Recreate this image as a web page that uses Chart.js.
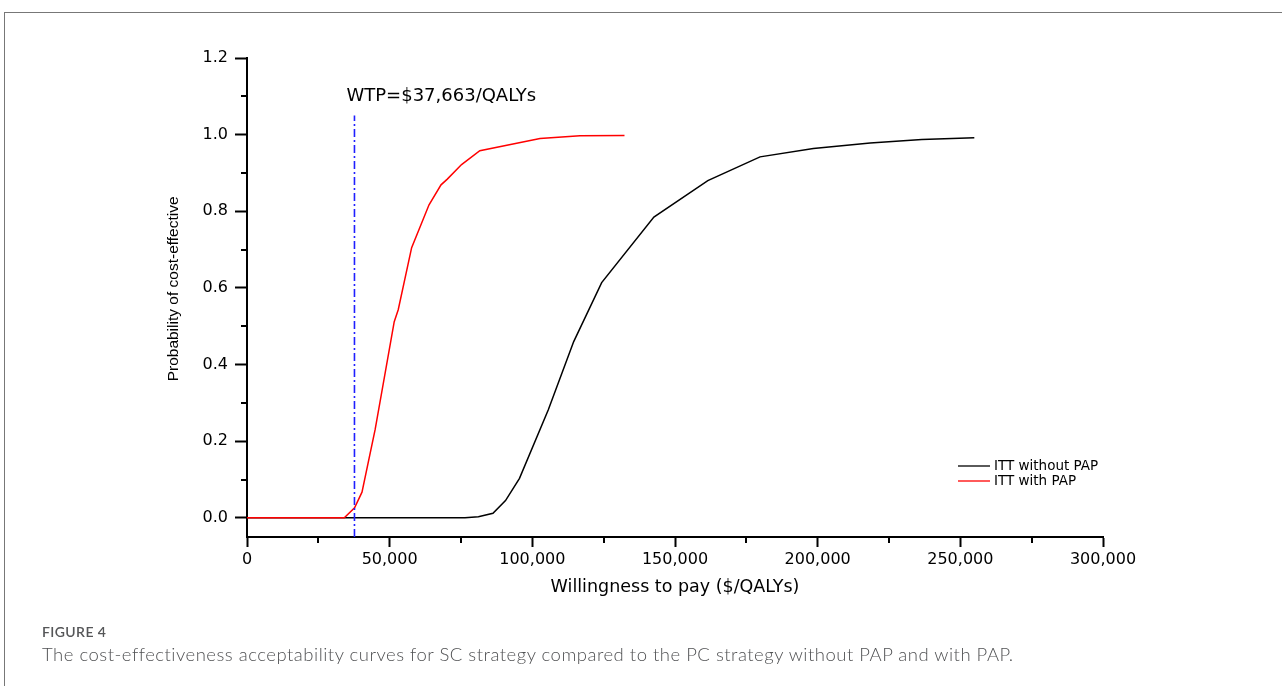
<!DOCTYPE html>
<html>
<head>
<meta charset="utf-8">
<script src="https://cdn.jsdelivr.net/npm/chart.js@4.4.1/dist/chart.umd.min.js"></script>
<style>
  html, body { margin: 0; padding: 0; background: #fff; }
  body { width: 1282px; height: 686px; position: relative; overflow: hidden; }
  #frame { position: absolute; left: 4px; top: 12px; width: 1290px; height: 700px;
           border-top: 1px solid #777; border-left: 1px solid #777; }
  #c { position: absolute; left: 0; top: 0; }
  #figlabel { position: absolute; left: 42px; top: 623px; font-family: Lato, "Open Sans", sans-serif;
              font-size: 14px; font-weight: 600; color: #555658; letter-spacing: 0.4px; }
  #figcap { position: absolute; left: 42px; top: 643px; font-family: Lato, "Open Sans", sans-serif;
            font-size: 18.5px; font-weight: 300; color: #505153; white-space: nowrap; letter-spacing: 0.5px; }
</style>
</head>
<body>
<div id="frame"></div>
<canvas id="c" width="1282" height="686"></canvas>
<div id="figlabel">FIGURE 4</div>
<div id="figcap">The cost-effectiveness acceptability curves for SC strategy compared to the PC strategy without PAP and with PAP.</div>
<script>
// ---- data ----
const withoutPapWTP  = [0, 76400, 81100, 86200, 90600, 95500, 105600, 114500, 124300, 142600, 161500, 179800, 198500, 218400, 236500, 254900];
const withoutPapProb = [0, 0, 0.003, 0.012, 0.045, 0.103, 0.282, 0.46, 0.614, 0.785, 0.880, 0.942, 0.964, 0.978, 0.987, 0.992];
const withPapWTP  = [0, 34100, 37700, 40300, 44900, 51600, 53000, 57700, 63800, 68000, 70200, 75200, 81600, 102700, 116700, 132300];
const withPapProb = [0, 0, 0.026, 0.067, 0.23, 0.512, 0.543, 0.705, 0.817, 0.869, 0.884, 0.922, 0.958, 0.99, 0.997, 0.998];
const wtpThreshold = 37663;
const wtpLineProb = [-0.05, 1.05];
const xMajorTicks = [0, 50000, 100000, 150000, 200000, 250000, 300000];
const xMinorTicks = [25000, 75000, 125000, 175000, 225000, 275000];
const yMajorTicks = [0, 0.2, 0.4, 0.6, 0.8, 1.0, 1.2];
const yMinorTicks = [0.1, 0.3, 0.5, 0.7, 0.9, 1.1];
const seriesNames = ['ITT without PAP', 'ITT with PAP'];
const wtpLabel = 'WTP=$37,663/QALYs';
const xTitle = 'Willingness to pay ($/QALYs)';
const yTitle = '    Probability of cost-effective';

const toPts = (xs, ys) => xs.map((x, i) => ({x: x, y: ys[i]}));

const extras = {
  id: 'extras',
  afterDraw(chart) {
    const ctx = chart.ctx;
    const xs = chart.scales.x, ys = chart.scales.y;
    ctx.save();
    // minor ticks
    ctx.strokeStyle = '#000';
    ctx.lineWidth = 2;
    ctx.beginPath();
    yMinorTicks.forEach(v => {
      const p = Math.round(ys.getPixelForValue(v));
      ctx.moveTo(ys.right - 6, p); ctx.lineTo(ys.right, p);
    });
    xMinorTicks.forEach(v => {
      const p = Math.round(xs.getPixelForValue(v));
      ctx.moveTo(p, xs.top); ctx.lineTo(p, xs.top + 6);
    });
    ctx.stroke();
    // WTP label
    ctx.fillStyle = '#000';
    ctx.font = '18px "DejaVu Sans"';
    ctx.textBaseline = 'middle';
    ctx.textAlign = 'left';
    ctx.fillText(wtpLabel, xs.getPixelForValue(wtpThreshold) - 8, ys.getPixelForValue(1.05) - 19);
    // legend
    const lx = 958, ly = 466, gap = 15;
    const cols = ['#000000', '#ff0000'];
    ctx.font = '13.5px "DejaVu Sans"';
    seriesNames.forEach((n, i) => {
      const y = ly + i * gap;
      ctx.strokeStyle = cols[i];
      ctx.lineWidth = 1.3;
      ctx.beginPath(); ctx.moveTo(lx, y); ctx.lineTo(lx + 32, y); ctx.stroke();
      ctx.fillStyle = '#000';
      ctx.fillText(n, lx + 36, y + 0.5);
    });
    ctx.restore();
  }
};

new Chart(document.getElementById('c'), {
  type: 'line',
  data: {
    datasets: [
      { label: seriesNames[0], data: toPts(withoutPapWTP, withoutPapProb), borderColor: '#000000',
        borderWidth: 1.5, pointRadius: 0, tension: 0, order: 3 },
      { label: seriesNames[1], data: toPts(withPapWTP, withPapProb), borderColor: '#ff0000',
        borderWidth: 1.5, pointRadius: 0, tension: 0, order: 2 },
      { label: 'WTP', data: toPts([wtpThreshold, wtpThreshold], wtpLineProb), borderColor: '#1f1fff',
        borderWidth: 1.6, borderDash: [8, 3, 2, 3], pointRadius: 0, order: 1 }
    ]
  },
  plugins: [extras],
  options: {
    responsive: false,
    animation: false,
    devicePixelRatio: 1,
    layout: { padding: { left: 0, top: 58, right: 179, bottom: 0 } },
    plugins: { legend: { display: false }, tooltip: { enabled: false } },
    scales: {
      x: {
        type: 'linear', min: 0, max: 300000,
        afterBuildTicks: s => { s.ticks = xMajorTicks.map(v => ({value: v})); },
        afterFit: s => { s.height = 149; },
        ticks: { color: '#000', font: { family: 'DejaVu Sans', size: 16 }, padding: 3,
                 maxRotation: 0, autoSkip: false,
                 callback: v => Number(v).toLocaleString('en-US') },
        grid: { drawOnChartArea: false, drawTicks: true, tickLength: 10, tickWidth: 2, tickColor: '#000' },
        border: { display: true, color: '#000', width: 2 },
        title: { display: true, text: xTitle, color: '#000', font: { family: 'DejaVu Sans', size: 17.5 },
                 padding: { top: 0, bottom: 88 } }
      },
      y: {
        type: 'linear', min: -0.05, max: 1.2,
        afterBuildTicks: s => { s.ticks = yMajorTicks.map(v => ({value: v})); },
        afterFit: s => { s.width = 247; },
        ticks: { color: '#000', font: { family: 'DejaVu Sans', size: 16 }, padding: 7, autoSkip: false,
                 callback: v => Number(v).toFixed(1) },
        grid: { drawOnChartArea: false, drawTicks: true, tickLength: 12, tickWidth: 2, tickColor: '#000' },
        border: { display: true, color: '#000', width: 2 },
        title: { display: true, text: yTitle, color: '#000',
                 font: { family: '"Liberation Sans", Arial', size: 15.5 },
                 padding: { top: 164, bottom: 0 } }
      }
    }
  }
});
</script>
</body>
</html>
